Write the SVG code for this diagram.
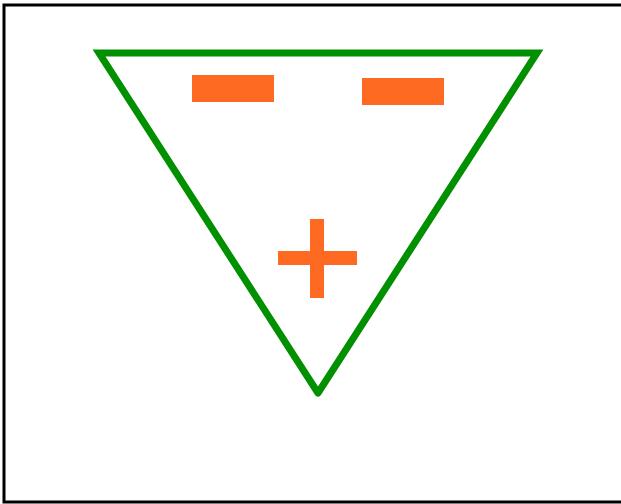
<svg xmlns="http://www.w3.org/2000/svg" width="621" height="504" viewBox="0 0 621 504">
<style>
.frame{fill:none;stroke:#000;stroke-width:3}
.tri{fill:none;stroke:#009000;stroke-width:7;stroke-linecap:round;stroke-linejoin:miter}
.mark{fill:#ff6a22}
</style>
<rect width="621" height="504" fill="#fff"/>
<rect class="frame" x="4" y="5" width="630" height="497"/>
<g id="triangle">
<path class="tri" d="M318,393 L99,53 L537,53 L318,393"/>
</g>
<g id="minus1"><rect class="mark" x="192" y="75" width="82" height="27"/></g>
<g id="minus2"><rect class="mark" x="362" y="78" width="82" height="27"/></g>
<g id="plus">
<rect class="mark" x="310" y="219" width="14" height="79"/>
<rect class="mark" x="278" y="251" width="79" height="14"/>
</g>
</svg>
